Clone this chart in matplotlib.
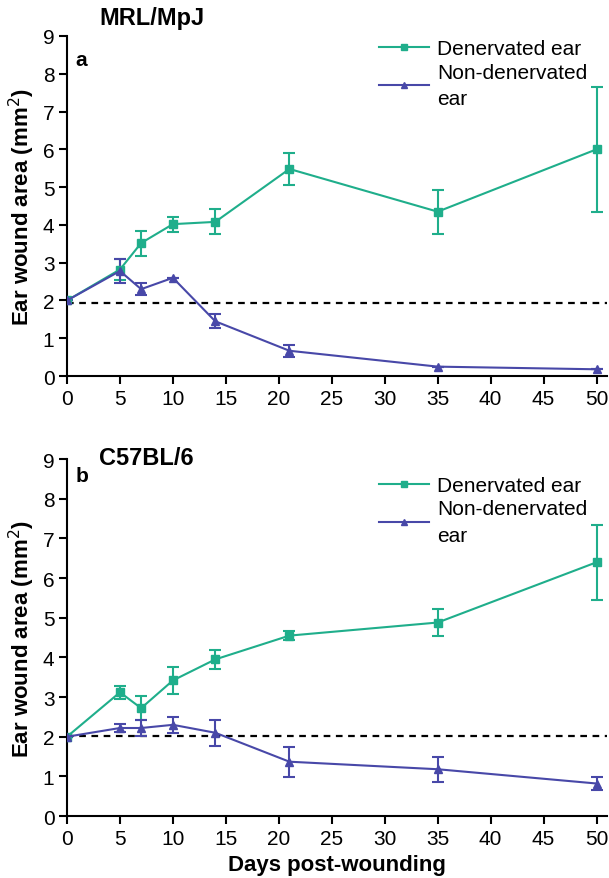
import matplotlib.pyplot as plt
from matplotlib.lines import Line2D

plt.rcParams['font.family'] = ['Liberation Sans', 'DejaVu Sans']

days = [0, 5, 7, 10, 14, 21, 35, 50]

# MRL/MpJ
mrl_den = [2.0, 2.82, 3.52, 4.02, 4.08, 5.48, 4.35, 6.0]
mrl_den_err = [0.0, 0.28, 0.33, 0.2, 0.33, 0.42, 0.58, 1.65]
mrl_non = [2.0, 2.78, 2.3, 2.6, 1.45, 0.67, 0.25, 0.18]
mrl_non_err = [0.0, 0.32, 0.15, 0.0, 0.18, 0.16, 0.0, 0.0]
mrl_baseline = 1.93

# C57BL/6
c57_den = [2.0, 3.12, 2.72, 3.42, 3.95, 4.55, 4.88, 6.4]
c57_den_err = [0.0, 0.17, 0.31, 0.34, 0.23, 0.12, 0.35, 0.95]
c57_non = [2.0, 2.22, 2.22, 2.3, 2.1, 1.37, 1.18, 0.82]
c57_non_err = [0.0, 0.1, 0.2, 0.2, 0.33, 0.38, 0.31, 0.16]
c57_baseline = 2.02

green = '#1fae8b'
blue = '#4848a8'

fig = plt.figure(figsize=(6.09, 8.79), dpi=100)
ax1 = fig.add_axes([0.110, 0.571, 0.887, 0.387])
ax2 = fig.add_axes([0.110, 0.0705, 0.887, 0.406])

# axes, title, letter, data..., (title y, letter y, legend y)
panels = [
    (ax1, 'MRL/MpJ', 'a', mrl_den, mrl_den_err, mrl_non, mrl_non_err, mrl_baseline,
     (1.055, 0.93, 1.045)),
    (ax2, 'C57BL/6', 'b', c57_den, c57_den_err, c57_non, c57_non_err, c57_baseline,
     (1.005, 0.955, 1.005)),
]

handles = [
    Line2D([], [], color=green, marker='s', ms=5, lw=1.5),
    Line2D([], [], color=blue, marker='^', ms=5, lw=1.5),
]
labels = ['Denervated ear', 'Non-denervated\near']

for ax, title, letter, den, den_err, non, non_err, base, pos in panels:
    ax.axhline(base, color='black', ls=(0, (3, 2.5)), lw=1.6, zorder=1)
    ax.errorbar(days, den, yerr=den_err, color=green, marker='s', ms=6,
                lw=1.5, capsize=4, elinewidth=1.5, capthick=1.5, zorder=3)
    ax.errorbar(days, non, yerr=non_err, color=blue, marker='^', ms=6,
                lw=1.5, capsize=4, elinewidth=1.5, capthick=1.5, zorder=3)
    ax.set_xlim(0, 51)
    ax.set_ylim(0, 9)
    ax.set_xticks(range(0, 51, 5))
    ax.set_yticks(range(0, 10))
    for s in ['top', 'right']:
        ax.spines[s].set_visible(False)
    for s in ['left', 'bottom']:
        ax.spines[s].set_linewidth(1.5)
    ax.tick_params(direction='out', length=6, width=1.5, labelsize=15, pad=3)
    ax.set_ylabel('Ear wound area (mm$^2$)', fontsize=16, fontweight='bold',
                  labelpad=4)
    ax.text(0.06, pos[0], title, transform=ax.transAxes, fontsize=17,
            fontweight='bold', va='center')
    ax.text(0.016, pos[1], letter, transform=ax.transAxes, fontsize=15,
            fontweight='bold', va='center')
    leg = ax.legend(handles, labels, loc='upper right', bbox_to_anchor=(0.998, pos[2]),
                    frameon=False, fontsize=15, handlelength=2.4, handletextpad=0.4,
                    labelspacing=0.2)
    for t in leg.get_texts():
        t.set_linespacing(1.5)

ax2.set_xlabel('Days post-wounding', fontsize=16, fontweight='bold', labelpad=5)

fig.savefig('out.png', dpi=100)
